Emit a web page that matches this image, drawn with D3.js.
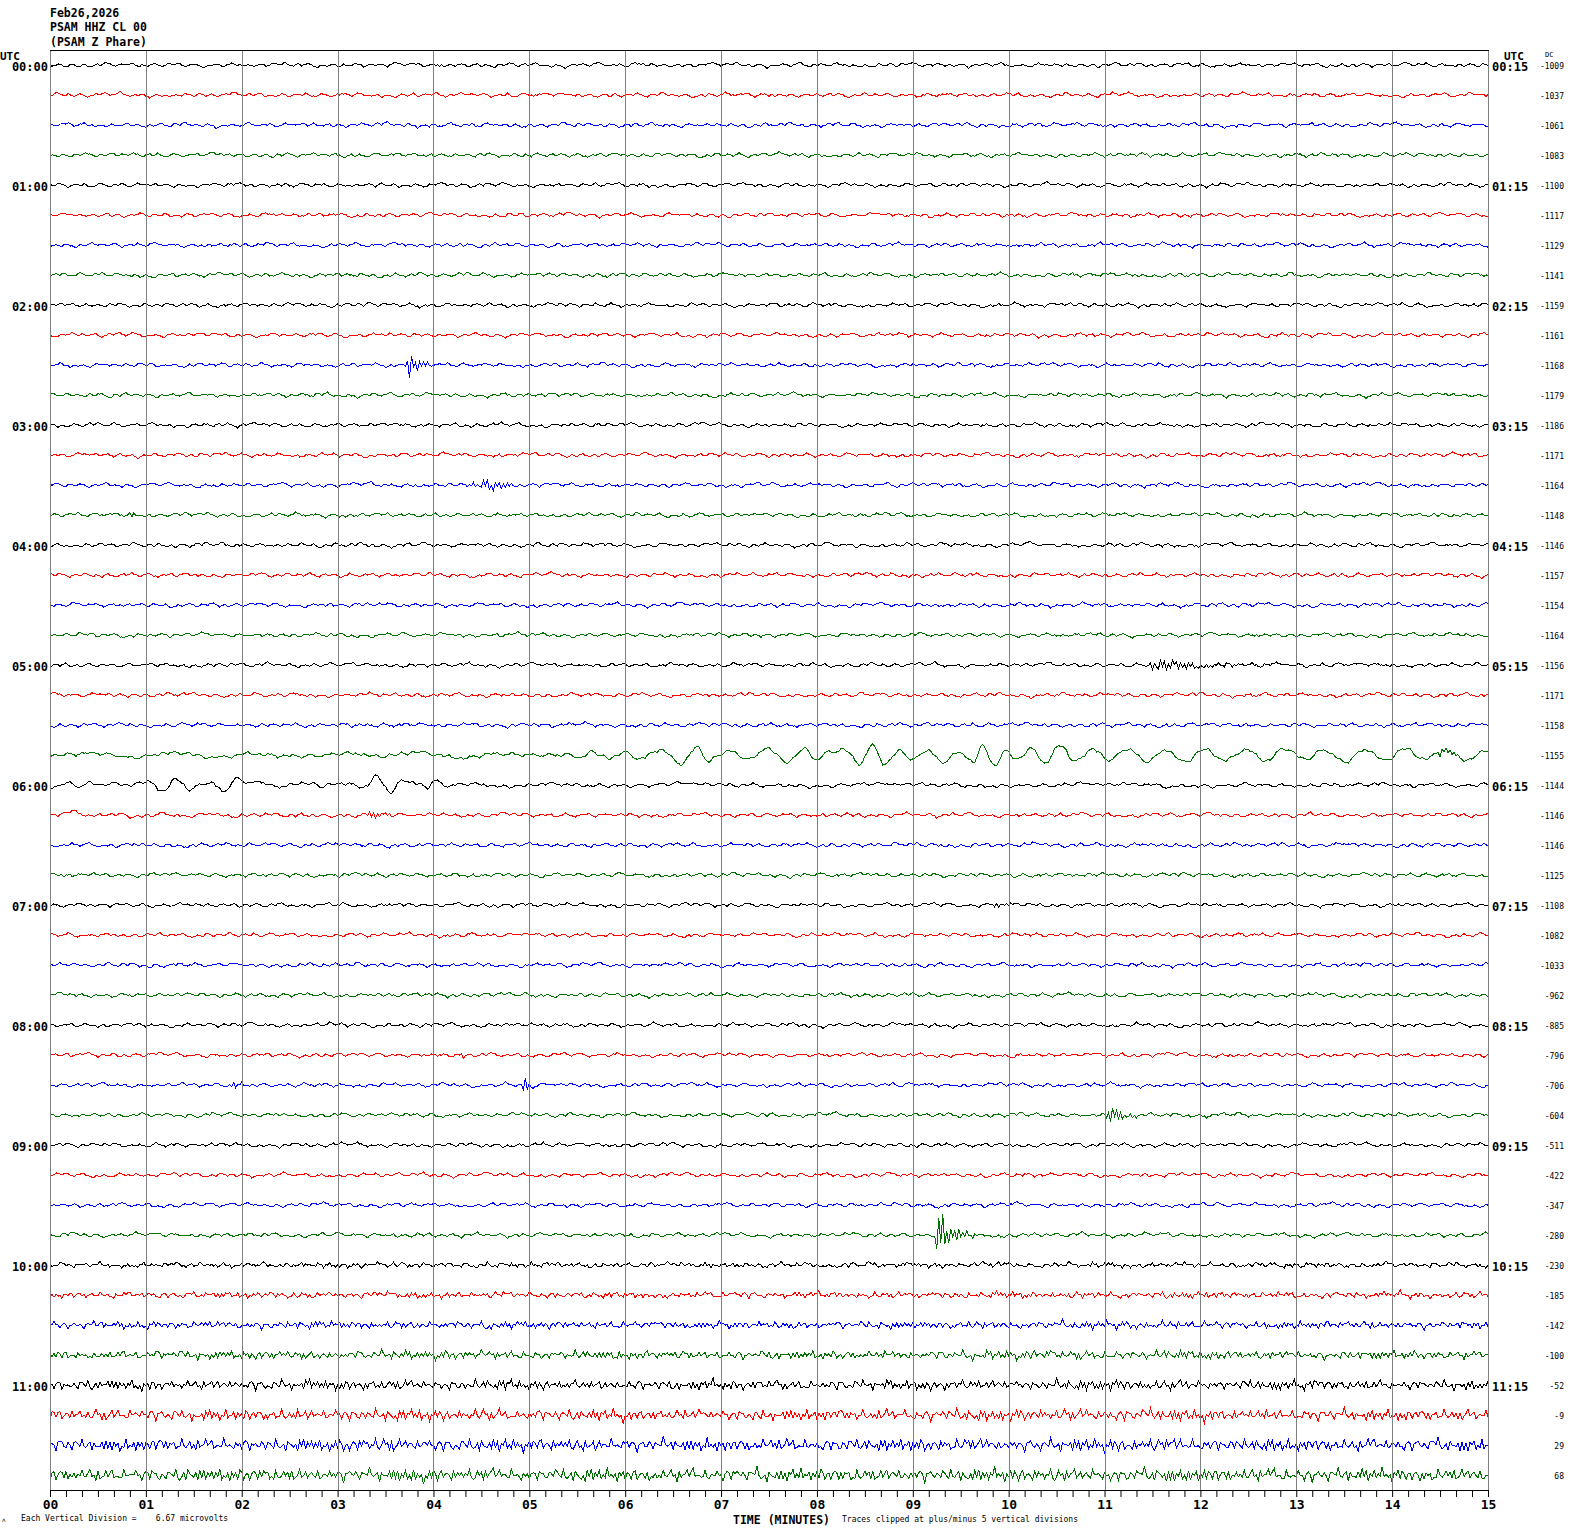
<!DOCTYPE html>
<html><head><meta charset="utf-8">
<script src="https://cdn.jsdelivr.net/npm/d3@7"></script>
<style>body{margin:0;background:#fff} svg{display:block} text{font-family:"DejaVu Sans Mono",monospace}</style>
</head><body><svg id="c" width="1570" height="1534"></svg>
<script>
// ---------- data ----------
const headerLines = ["Feb26,2026", "PSAM HHZ CL 00", "(PSAM Z Phare)"];
const leftHourLabels = ["00:00","01:00","02:00","03:00","04:00","05:00","06:00","07:00","08:00","09:00","10:00","11:00"];
const rightHourLabels = ["00:15","01:15","02:15","03:15","04:15","05:15","06:15","07:15","08:15","09:15","10:15","11:15"];
const minuteLabels = ["00","01","02","03","04","05","06","07","08","09","10","11","12","13","14","15"];
const dcValues = [-1009,-1037,-1061,-1083,-1100,-1117,-1129,-1141,-1159,-1161,-1168,-1179,-1186,-1171,-1164,-1148,
  -1146,-1157,-1154,-1164,-1156,-1171,-1158,-1155,-1144,-1146,-1146,-1125,-1108,-1082,-1033,-962,
  -885,-796,-706,-604,-511,-422,-347,-280,-230,-185,-142,-100,-52,-9,29,68];
const traceColors = ["#000000", "#ff0000", "#0000ff", "#007000"];
// background noise level of each trace (amplitude units)
const noiseLevel = [3.5,3.5,3.6,3.5,3.5,3.5,3.5,3.5,3.5,3.5,3.5,3.5,3.5,3.5,3.6,3.5,
  3.6,3.5,3.5,3.5,3.5,3.5,3.6,3.5,3.5,3.6,3.6,3.5,3.5,3.5,3.5,3.5,
  3.5,3.5,3.5,3.5,3.6,3.6,3.6,3.6,4.2,4.6,5.2,5.8,6.4,7,7.6,8];
// share of high-frequency content in the noise of each trace
const noiseHF = [0.3,0.3,0.3,0.3,0.3,0.3,0.3,0.3,0.3,0.3,0.3,0.3,0.3,0.3,0.3,0.3,
  0.3,0.3,0.3,0.3,0.3,0.3,0.3,0.3,0.3,0.3,0.3,0.3,0.3,0.3,0.3,0.3,
  0.3,0.3,0.3,0.3,0.3,0.3,0.3,0.3,0.6,0.7,0.8,0.85,0.9,0.95,1,1];
// texture of the ground noise
const noisePattern = [2,5,3,-1,-4,-2,1,4,6,3,-2,-6,-4,0,3,1,-3,-5,-1,4,7,5,0,-3,-2,2,1,-4,-7,-5,-1,2,5,8,4,-1,-3,0,3,-2,
  -6,-8,-3,1,4,2,-2,-1,3,6,2,-3,-5,-2,0,4,9,5,1,-2,-4,-1,2,-3,-7,-4,0,3,5,2,-1,-5,-9,-6,-2,1,3,6,4,0,
  -2,1,-1,-4,-3,2,5,7,3,-1,-4,-6,-3,0,2,-1,1,4,2,-2,-3];
// texture of the local quake bursts
const burstPattern = [1,-0.7,0.4,-1,0.8,-0.3,0.9,-0.8,0.2,-0.6,1,-0.9,0.5,-0.4,0.7,-1,0.3,-0.5,0.9,-0.6,0.8,-0.2,0.6];
// long-period (surface wave) extremes: [minute, amplitude]
const wave0545 = [[0,0],[0.42,-2],[0.83,2],[1.30,-2],[1.77,2],[2.19,-1],[2.61,2],[3.02,-2],[3.44,1],[3.86,-2],[4.28,2],[4.69,-1],[5.11,1],
  [5.32,0],[5.42,-2],[5.50,3],[5.65,-3],[5.74,1],[5.84,2],[6.00,-3],[6.15,4],[6.39,-5],[6.57,8],[6.75,-8],[6.88,7],[6.97,1],[7.06,-4],
  [7.30,4],[7.48,-6],[7.69,7],[7.88,-7],[8.00,5],[8.10,-2],[8.27,-5],[8.45,10],[8.57,-10],[8.71,8],[8.87,-5],[9.00,5],[9.15,-5],
  [9.31,7],[9.49,-2],[9.63,7],[9.73,-10],[9.86,11],[9.96,-5],[10.10,4],[10.25,-6],[10.38,9],[10.54,-10],[10.69,6],[10.87,-6],
  [11.06,5],[11.24,-6],[11.45,6],[11.63,-5],[11.84,7],[12.05,-6],[12.26,5],[12.47,-5],[12.67,6],[12.88,-7],[13.09,5],[13.30,-5],
  [13.51,6],[13.72,-5],[13.93,5],[14.13,-6],[14.34,5],[14.55,-5],[14.76,4],[15,-5]];
const wave0600 = [[0,2],[0.02,3],[0.18,-2],[0.29,3],[0.42,-3],[0.52,0],[0.63,-2],[0.80,1],[0.92,-2],[1.06,-3],[1.18,5],[1.32,-6],
  [1.46,5],[1.60,-2],[1.70,-2],[1.80,7],[1.96,-5],[2.05,-2],[2.22,-3],[2.37,2],[2.53,-2],[2.74,-2],[2.82,3],[2.95,-2],[3.16,0],
  [3.29,3],[3.41,-8],[3.55,7],[3.68,-6],[3.83,-1],[3.94,3],[4.00,-4],[4.14,0],[4.28,-1],[4.69,1],[5.11,-1],[5.74,1],[6.78,-1],
  [7.82,1],[8.87,-1],[9.91,1],[10.95,-1],[12.0,1],[13.04,0],[15,0]];
const wave0615 = [[0,0],[0.25,-2],[0.45,1],[0.7,-2],[0.95,2],[1.2,-1],[1.45,2],[1.7,-1],[1.95,1],[2.3,-1],[2.7,1],[3.1,0],[15,0]];
// local events: [trace, onset minute, peak amplitude, envelope [dt, fraction]]
const events = [
  [7, 10.62, 2, [[0,0],[0.03,1],[0.15,0]]],
  [10, 3.71, 16, [[0,0],[0.02,1],[0.05,0.7],[0.1,0.3],[0.22,0.1],[0.3,0]]],
  [14, 4.26, 4, [[0,0],[0.1,0.5],[0.3,1],[0.5,0.8],[0.65,0]]],
  [15, 0.81, 2.5, [[0,0],[0.03,1],[0.12,0]]],
  [20, 11.47, 8, [[0,0],[0.02,1],[0.1,0.55],[0.4,0.3],[0.9,0.18],[1.5,0.08],[1.9,0]]],
  [23, 14.48, 4, [[0,0],[0.02,1],[0.12,0.4],[0.25,0]]],
  [25, 3.31, 5, [[0,0],[0.02,1],[0.1,0.5],[0.4,0]]],
  [28, 9.80, 3.5, [[0,0],[0.05,1],[0.15,0.5],[0.3,0]]],
  [33, 4.26, 4, [[0,0],[0.02,1],[0.1,0]]],
  [34, 1.88, 3, [[0,0],[0.03,1],[0.15,0]]],
  [34, 4.93, 12, [[0,0],[0.02,1],[0.06,0.3],[0.2,0]]],
  [35, 11.00, 9, [[0,0],[0.02,0.6],[0.06,1],[0.15,0.5],[0.3,0.2],[0.45,0]]],
  [39, 9.24, 26, [[0,0],[0.02,1],[0.06,0.8],[0.12,0.35],[0.3,0.12],[0.5,0]]]
];

// ---------- drawing ----------
const svg = d3.select("#c");
const W = 1570, H = 1534;
const x = d3.scaleLinear().domain([0, 15]).range([50, 1488]);
const row = d3.scaleLinear().domain([0, 47]).range([65, 1475]);
const amp = d3.scaleLinear().domain([-30, 30]).range([-30, 30]).clamp(true);
const plotTop = 50, plotBottom = 1490;

svg.append("rect").attr("width", W).attr("height", H).attr("fill", "#fff");

// header
svg.selectAll("text.hdr").data(headerLines).join("text").attr("class", "hdr")
  .attr("x", 50).attr("y", (d, i) => 16.5 + i * 14.8)
  .attr("font-size", 11.5).attr("font-weight", "bold").attr("fill", "#000").text(d => d);

// traces
const P = noisePattern, L = P.length, L2 = 97, B = burstPattern;
const N = 720, dt = 15 / N;
function interpKeys(keys, t, smooth) {
  if (t <= keys[0][0]) return keys[0][1];
  if (t >= keys[keys.length - 1][0]) return keys[keys.length - 1][1];
  const j = d3.bisector(d => d[0]).right(keys, t) - 1;
  const a = keys[j], b = keys[j + 1];
  let f = (t - a[0]) / (b[0] - a[0]);
  if (smooth) f = (1 - Math.cos(Math.PI * f)) / 2;
  return a[1] + (b[1] - a[1]) * f;
}
const waves = {23: wave0545, 24: wave0600, 25: wave0615};
const traces = d3.range(48).map(i => {
  const o1 = (i * 37) % L, o2 = (i * 53 + 11) % L2, o3 = (i * 17 + 5) % L;
  const evs = events.filter(e => e[0] === i);
  const hf = noiseHF[i];
  const pts = [];
  for (let k = 0; k <= N; k++) {
    const t = k * dt;
    const lowPos = k / 5 + o3, li = Math.floor(lowPos), lf = lowPos - li;
    const low = P[li % L] * (1 - lf) + P[(li + 1) % L] * lf;
    let v = noiseLevel[i] / 10 * ((0.85 - 0.5 * hf) * P[(k + o1) % L] + hf * P[(3 * k + o2) % L2] + (0.5 - 0.35 * hf) * low);
    if (waves[i]) v += interpKeys(waves[i], t, true);
    evs.forEach(e => {
      const rel = t - e[1];
      const env = e[3];
      if (rel >= 0 && rel <= env[env.length - 1][0]) {
        v += e[2] * interpKeys(env, rel, false) * B[(k + i) % B.length];
      }
    });
    pts.push([t, v]);
  }
  return {i, pts};
});
const line = d3.line().x(d => x(d[0]));
svg.append("g").selectAll("path").data(traces).join("path")
  .attr("d", tr => line.y(d => row(tr.i) + amp(d[1]))(tr.pts))
  .attr("fill", "none").attr("stroke", tr => traceColors[tr.i % 4])
  .attr("stroke-width", 1).attr("shape-rendering", "crispEdges");

// grid lines
svg.append("g").selectAll("line").data(d3.range(0, 16)).join("line")
  .attr("x1", d => Math.round(x(d)) + 0.5).attr("x2", d => Math.round(x(d)) + 0.5)
  .attr("y1", plotTop).attr("y2", plotBottom)
  .attr("stroke", "#808080").attr("stroke-width", 1);
// top border
svg.append("line").attr("x1", 50).attr("x2", 1489).attr("y1", plotTop + 0.5).attr("y2", plotTop + 0.5)
  .attr("stroke", "#000").attr("stroke-width", 1);

// bottom axis
const axis = d3.axisBottom(x)
  .tickValues(d3.range(0, 91).map(d => d / 6))
  .tickSize(7).tickSizeOuter(0).tickPadding(3)
  .tickFormat(d => Math.abs(d - Math.round(d)) < 1e-6 ? minuteLabels[Math.round(d)] : "");
const gAx = svg.append("g").attr("transform", `translate(0,${plotBottom})`).call(axis);
gAx.selectAll("path,line").attr("stroke", "#000");
gAx.selectAll("text").attr("font-family", "DejaVu Sans Mono").attr("font-weight", "bold")
  .attr("font-size", 13).attr("fill", "#000");

// hour labels
svg.append("text").attr("x", 0).attr("y", 59.5).attr("font-size", 11).attr("font-weight", "bold").text("UTC");
svg.append("text").attr("x", 1504).attr("y", 59.5).attr("font-size", 11).attr("font-weight", "bold").text("UTC");
svg.selectAll("text.lh").data(leftHourLabels).join("text").attr("class", "lh")
  .attr("x", 48).attr("y", (d, i) => row(i * 4) + 5.5).attr("text-anchor", "end")
  .attr("font-size", 12).attr("font-weight", "bold").text(d => d);
svg.selectAll("text.rh").data(rightHourLabels).join("text").attr("class", "rh")
  .attr("x", 1492).attr("y", (d, i) => row(i * 4) + 5.5)
  .attr("font-size", 12).attr("font-weight", "bold").text(d => d);

// DC column
svg.append("text").attr("x", 1545).attr("y", 57).attr("font-size", 7).text("DC");
svg.selectAll("text.dc").data(dcValues).join("text").attr("class", "dc")
  .attr("x", 1564).attr("y", (d, i) => row(i) + 3.5).attr("text-anchor", "end")
  .attr("font-size", 8).text(d => d);

// footer
svg.append("text").attr("x", 2).attr("y", 1522).attr("font-size", 6).text("ʌ");
svg.append("text").attr("x", 21).attr("y", 1521).attr("font-size", 8).style("white-space", "pre")
  .text("Each Vertical Division =    6.67 microvolts");
svg.append("text").attr("x", 733).attr("y", 1524).attr("font-size", 11.5).attr("font-weight", "bold")
  .attr("textLength", 97).attr("lengthAdjust", "spacingAndGlyphs").text("TIME (MINUTES)");
svg.append("text").attr("x", 842).attr("y", 1522).attr("font-size", 8)
  .text("Traces clipped at plus/minus 5 vertical divisions");
</script></body></html>
